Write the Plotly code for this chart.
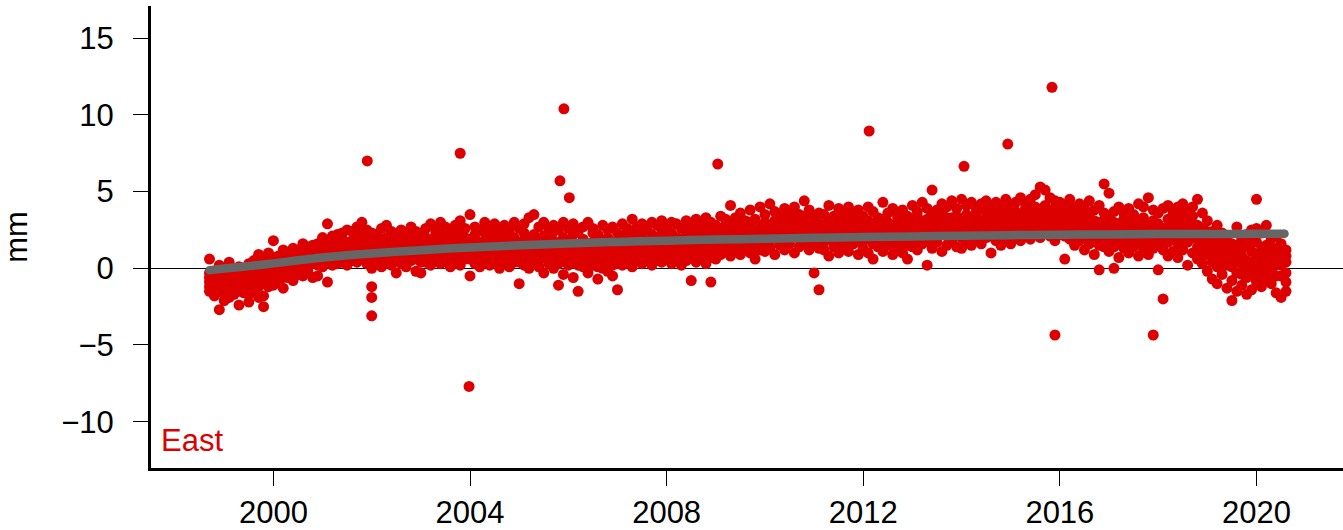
import plotly.graph_objects as go

# GPS east component, mm. Each epoch carries six solutions
epoch = [
    1998.7, 1998.8, 1998.9,
    1999.0, 1999.1, 1999.2, 1999.3, 1999.4, 1999.5, 1999.6, 1999.7, 1999.8, 1999.9,
    2000.0, 2000.1, 2000.2, 2000.3, 2000.4, 2000.5, 2000.6, 2000.7, 2000.8, 2000.9,
    2001.0, 2001.1, 2001.2, 2001.3, 2001.4, 2001.5, 2001.6, 2001.7, 2001.8, 2001.9,
    2002.0, 2002.1, 2002.2, 2002.3, 2002.4, 2002.5, 2002.6, 2002.7, 2002.8, 2002.9,
    2003.0, 2003.1, 2003.2, 2003.3, 2003.4, 2003.5, 2003.6, 2003.7, 2003.8, 2003.9,
    2004.0, 2004.1, 2004.2, 2004.3, 2004.4, 2004.5, 2004.6, 2004.7, 2004.8, 2004.9,
    2005.0, 2005.1, 2005.2, 2005.3, 2005.4, 2005.5, 2005.6, 2005.7, 2005.8, 2005.9,
    2006.0, 2006.1, 2006.2, 2006.3, 2006.4, 2006.5, 2006.6, 2006.7, 2006.8, 2006.9,
    2007.0, 2007.1, 2007.2, 2007.3, 2007.4, 2007.5, 2007.6, 2007.7, 2007.8, 2007.9,
    2008.0, 2008.1, 2008.2, 2008.3, 2008.4, 2008.5, 2008.6, 2008.7, 2008.8, 2008.9,
    2009.0, 2009.1, 2009.2, 2009.3, 2009.4, 2009.5, 2009.6, 2009.7, 2009.8, 2009.9,
    2010.0, 2010.1, 2010.2, 2010.3, 2010.4, 2010.5, 2010.6, 2010.7, 2010.8, 2010.9,
    2011.0, 2011.1, 2011.2, 2011.3, 2011.4, 2011.5, 2011.6, 2011.7, 2011.8, 2011.9,
    2012.0, 2012.1, 2012.2, 2012.3, 2012.4, 2012.5, 2012.6, 2012.7, 2012.8, 2012.9,
    2013.0, 2013.1, 2013.2, 2013.3, 2013.4, 2013.5, 2013.6, 2013.7, 2013.8, 2013.9,
    2014.0, 2014.1, 2014.2, 2014.3, 2014.4, 2014.5, 2014.6, 2014.7, 2014.8, 2014.9,
    2015.0, 2015.1, 2015.2, 2015.3, 2015.4, 2015.5, 2015.6, 2015.7, 2015.8, 2015.9,
    2016.0, 2016.1, 2016.2, 2016.3, 2016.4, 2016.5, 2016.6, 2016.7, 2016.8, 2016.9,
    2017.0, 2017.1, 2017.2, 2017.3, 2017.4, 2017.5, 2017.6, 2017.7, 2017.8, 2017.9,
    2018.0, 2018.1, 2018.2, 2018.3, 2018.4, 2018.5, 2018.6, 2018.7, 2018.8, 2018.9,
    2019.0, 2019.1, 2019.2, 2019.3, 2019.4, 2019.5, 2019.6, 2019.7, 2019.8, 2019.9,
    2020.0, 2020.1, 2020.2, 2020.3, 2020.4, 2020.5, 2020.6,
]

east_mm = [
    [-1.2, -0.6, 0.6, -0.3, -0.9, -1.5], [-1.8, -0.9, -0.2, -1.3, -0.5, -1.1],
    [-2.7, -1.5, -0.5, 0.2, -1.0, -0.7],
    # 1999
    [-2.1, -1.1, -0.4, -1.6, -0.8, -1.3], [-1.4, -0.7, 0.4, -1.9, -1.1, -0.3],
    [-1.2, -0.3, -0.8, -1.7, -0.6, -1.4], [-2.4, -1.0, -0.2, 0.1, -0.7, -1.5],
    [-1.6, -0.9, -0.4, -1.3, -0.2, -1.1], [-2.2, -0.6, 0.3, -1.1, -0.4, -1.6],
    [-1.0, -0.2, 0.5, -1.6, -0.7, -0.1], [-1.9, -0.8, 0.2, 0.9, -0.4, -1.2],
    [-2.5, -1.8, -0.5, 0.6, -0.9, 0.0], [-1.2, -0.3, 0.4, 1.0, -0.6, -0.9],
    # 2000
    [-1.1, -0.4, 0.7, 1.8, 0.1, -0.7], [-0.9, 0.0, 0.8, -0.3, 0.4, -0.5],
    [-1.3, -0.2, 0.6, 1.2, 0.3, -0.6], [-0.6, 0.3, 1.0, -0.1, 0.6, -0.3],
    [-0.8, 0.1, 0.9, 1.3, 0.5, -0.2], [-0.4, 0.4, 1.2, -0.1, 0.8, 0.0],
    [-0.5, 0.2, 1.0, 1.6, 0.6, 0.3], [-0.2, 0.6, 1.4, 0.1, 1.0, 0.3],
    [-0.6, 0.3, 0.9, 1.5, 0.6, 1.2], [-0.5, 0.5, 1.6, 0.9, 0.2, 1.2],
    # 2001
    [0.1, 0.7, 1.5, 2.0, 1.1, 0.4], [-0.9, 0.4, 1.2, 2.9, 0.8, 1.6],
    [0.2, 1.0, 1.8, 1.4, 0.6, 2.1], [0.3, 0.9, 2.2, 1.5, 1.2, 0.6],
    [0.4, 1.2, 1.9, 2.3, 0.8, 1.5], [0.2, 1.1, 1.7, 2.5, 1.4, 0.7],
    [0.5, 1.3, 2.4, 1.8, 0.9, 1.6], [0.4, 1.5, 2.0, 2.7, 1.0, 1.8],
    [0.7, 1.2, 2.2, 3.0, 1.6, 0.9], [0.3, 1.4, 2.5, 1.9, 0.8, 1.1],
    # 2002
    [0.0, 1.0, 1.6, 2.3, 0.6, 1.3], [0.3, 0.9, 1.8, 2.2, 1.4, 0.6],
    [0.1, 1.1, 1.5, 2.6, 0.7, 1.9], [0.4, 0.8, 2.0, 2.8, 1.3, 1.6],
    [0.2, 1.2, 1.7, 2.4, 0.7, 1.5], [-0.3, 0.7, 1.4, 2.1, 1.0, 1.8],
    [0.3, 1.0, 1.9, 2.5, 1.4, 0.6], [0.1, 1.3, 1.6, 2.2, 0.8, 1.9],
    [0.5, 0.9, 2.1, 2.7, 1.5, 1.2], [-0.2, 1.1, 1.5, 2.4, 0.6, 1.8],
    # 2003
    [-0.3, 0.8, 1.8, 2.3, 1.3, 0.4], [0.4, 1.2, 2.0, 2.6, 0.8, 1.6],
    [0.2, 1.0, 1.7, 2.9, 1.4, 0.6], [0.6, 1.4, 2.2, 2.5, 1.0, 1.8],
    [0.3, 1.1, 1.9, 3.0, 1.5, 0.7], [0.5, 1.3, 2.3, 2.7, 0.9, 1.8],
    [0.1, 1.0, 1.8, 2.4, 1.4, 0.6], [0.4, 1.5, 2.1, 2.8, 0.9, 1.8],
    [0.2, 1.2, 2.4, 3.1, 1.7, 0.7], [0.6, 1.4, 2.0, 2.6, 1.0, 1.7],
    # 2004
    [-0.5, 1.1, 1.9, 3.5, 0.6, 1.5], [0.3, 1.3, 2.2, 2.7, 0.8, 1.7],
    [0.1, 0.9, 1.7, 2.5, 1.3, 0.5], [0.4, 1.2, 2.3, 3.0, 1.7, 0.8],
    [0.2, 1.0, 1.8, 2.6, 1.4, 0.6], [0.5, 1.4, 2.1, 2.9, 1.0, 1.8],
    [0.0, 1.1, 1.9, 2.4, 0.6, 1.5], [0.3, 1.3, 2.4, 2.8, 0.8, 1.8],
    [0.1, 0.8, 1.6, 2.5, 1.2, 2.0], [0.4, 1.2, 2.0, 3.0, 0.8, 1.6],
    # 2005
    [-1.0, 0.9, 1.7, 2.6, 1.3, 0.4], [0.2, 1.3, 2.3, 2.9, 0.7, 1.8],
    [0.0, 1.1, 1.8, 3.3, 1.5, 0.6], [0.4, 1.4, 2.2, 3.5, 0.9, 1.8],
    [0.1, 1.0, 1.9, 2.7, 1.4, 0.6], [-0.3, 1.2, 2.1, 3.0, 0.7, 1.6],
    [0.3, 0.9, 1.7, 2.6, 1.3, 2.1], [0.0, 1.3, 2.4, 2.8, 0.6, 1.8],
    [-1.1, 0.8, 1.6, 2.5, 1.2, 0.3], [-0.4, 1.1, 2.0, 3.0, 0.5, 1.5],
    # 2006
    [0.2, 1.0, 1.8, 2.6, 1.4, 0.6], [-0.6, 0.9, 2.2, 2.9, 0.4, 1.5],
    [-1.5, 0.7, 1.5, 2.4, 1.1, 0.2], [0.1, 1.2, 1.9, 2.7, 0.6, 1.5],
    [-0.3, 0.8, 1.6, 3.0, 1.2, 0.3], [0.2, 1.1, 2.3, 2.6, 0.6, 1.7],
    [-0.7, 0.6, 1.4, 2.2, 1.0, 0.1], [0.0, 1.0, 1.8, 2.8, 0.5, 1.4],
    [-0.2, 0.9, 2.0, 2.5, 1.4, 0.4], [-0.5, 1.3, 1.7, 2.7, 0.7, 0.2],
    # 2007
    [-1.4, 0.7, 1.5, 2.3, 1.1, 0.3], [0.2, 1.1, 2.1, 2.9, 0.7, 1.6],
    [0.4, 1.4, 1.9, 2.6, 0.9, 1.2], [0.1, 1.0, 2.3, 3.2, 1.6, 0.6],
    [0.5, 1.3, 2.0, 2.7, 0.9, 1.7], [0.3, 1.5, 2.4, 2.9, 1.0, 1.9],
    [0.6, 1.2, 1.8, 2.5, 1.5, 0.9], [0.2, 1.4, 2.2, 3.0, 0.8, 1.8],
    [0.5, 1.1, 2.0, 2.8, 1.6, 0.8], [0.4, 1.6, 2.5, 3.1, 1.1, 2.0],
    # 2008
    [0.7, 1.3, 2.1, 2.7, 1.7, 1.0], [0.3, 1.5, 2.3, 3.0, 1.0, 1.9],
    [0.6, 1.2, 2.0, 2.9, 1.6, 0.9], [0.2, 1.0, 1.9, 2.6, 1.4, 0.6],
    [0.5, 1.6, 2.4, 3.1, 1.1, 2.0], [-0.8, 1.3, 2.2, 2.8, 1.7, 0.8],
    [0.4, 1.4, 2.5, 3.2, 1.9, 1.0], [0.7, 1.7, 2.1, 2.9, 1.3, 2.4],
    [0.3, 1.5, 2.6, 3.3, 2.0, 1.1], [-0.9, 1.8, 2.3, 3.0, 1.3, 0.7],
    # 2009
    [0.6, 1.4, 2.2, 2.8, 1.8, 1.0], [0.9, 1.9, 2.6, 3.4, 2.2, 1.4],
    [1.1, 1.7, 2.4, 3.2, 2.0, 2.8], [0.8, 2.0, 2.8, 4.1, 1.5, 2.4],
    [1.2, 1.8, 2.5, 3.3, 2.1, 2.9], [0.9, 2.1, 2.9, 3.6, 1.6, 2.5],
    [1.3, 1.9, 2.6, 3.1, 2.3, 1.6], [1.0, 2.2, 3.0, 3.8, 1.7, 2.6],
    [0.6, 1.8, 2.4, 3.2, 2.1, 1.3], [1.2, 2.0, 2.7, 4.0, 2.4, 1.6],
    # 2010
    [1.1, 2.3, 3.0, 3.5, 1.8, 2.7], [1.4, 2.1, 2.8, 4.2, 2.5, 1.8],
    [0.9, 2.4, 3.1, 3.7, 2.0, 2.8], [1.5, 2.2, 2.9, 3.4, 2.6, 1.9],
    [1.2, 2.5, 3.2, 3.9, 2.0, 2.8], [1.6, 2.3, 3.0, 3.6, 2.7, 2.0],
    [1.0, 2.6, 3.3, 4.0, 2.1, 2.9], [1.4, 2.2, 2.9, 3.5, 2.6, 1.9],
    [1.7, 2.5, 3.4, 4.4, 2.1, 3.0], [1.2, 2.3, 3.1, 3.8, 2.7, 1.8],
    # 2011
    [-0.3, 1.6, 2.6, 3.3, 2.1, 3.0], [-1.4, 1.3, 2.4, 3.6, 2.0, 2.9],
    [1.2, 2.0, 2.8, 3.5, 2.4, 1.7], [0.8, 2.3, 3.1, 4.1, 1.9, 2.7],
    [1.4, 2.1, 2.7, 3.4, 2.5, 3.0], [1.0, 2.4, 3.2, 3.9, 1.8, 2.8],
    [1.5, 2.2, 2.9, 3.6, 2.6, 1.9], [1.1, 2.5, 3.3, 4.0, 2.0, 2.9],
    [1.6, 2.0, 2.8, 3.5, 2.4, 3.1], [0.9, 2.3, 3.0, 3.8, 1.8, 2.7],
    # 2012
    [1.3, 2.1, 2.7, 3.4, 2.5, 1.8], [1.0, 2.4, 3.1, 4.0, 1.9, 2.8],
    [0.6, 2.2, 2.9, 3.7, 2.5, 1.6], [1.4, 2.0, 2.6, 3.3, 2.4, 3.0],
    [1.1, 2.5, 3.2, 4.3, 1.9, 2.8], [1.5, 2.3, 3.0, 3.6, 2.7, 1.9],
    [0.9, 2.1, 2.8, 3.9, 2.4, 1.6], [1.3, 2.4, 3.3, 3.5, 2.0, 2.8],
    [1.0, 2.2, 2.9, 3.8, 2.6, 1.7], [0.6, 2.0, 2.7, 3.4, 2.3, 1.5],
    # 2013
    [1.4, 2.5, 3.1, 4.1, 2.0, 2.8], [1.2, 2.3, 3.4, 3.7, 2.7, 1.8],
    [1.6, 2.6, 3.0, 4.3, 2.2, 2.9], [0.2, 2.2, 3.2, 3.9, 2.7, 1.8],
    [1.3, 2.7, 3.5, 5.1, 2.1, 3.0], [1.7, 2.4, 3.1, 3.8, 2.8, 2.0],
    [1.1, 2.8, 3.6, 4.2, 2.3, 3.1], [1.5, 2.5, 3.3, 4.0, 2.9, 2.1],
    [1.8, 2.9, 3.0, 4.4, 2.4, 3.3], [1.4, 2.6, 3.4, 3.9, 2.2, 3.0],
    # 2014
    [1.3, 2.4, 3.2, 4.5, 2.8, 2.0], [1.7, 2.7, 3.5, 4.1, 2.3, 3.1],
    [1.5, 2.5, 3.3, 4.3, 2.9, 2.1], [1.9, 2.8, 3.6, 3.9, 2.4, 3.2],
    [1.6, 2.6, 3.1, 4.2, 2.2, 3.0], [2.0, 2.9, 3.7, 4.4, 2.5, 3.3],
    [1.0, 2.5, 3.4, 4.0, 2.1, 3.0], [1.8, 2.7, 3.2, 4.3, 2.4, 3.5],
    [1.5, 3.0, 3.8, 4.1, 2.3, 3.4], [1.9, 2.6, 3.5, 4.5, 3.1, 2.2],
    # 2015
    [1.6, 2.8, 3.3, 4.0, 2.4, 3.6], [2.1, 3.0, 3.7, 4.3, 2.6, 3.4],
    [1.8, 2.7, 3.5, 4.6, 3.1, 2.3], [2.2, 3.1, 3.9, 4.2, 2.6, 3.5],
    [1.9, 2.9, 3.6, 4.5, 2.4, 3.3], [2.3, 3.2, 4.0, 4.8, 2.7, 3.6],
    [2.0, 3.0, 3.7, 5.3, 2.5, 3.4], [2.4, 3.3, 4.1, 5.1, 2.8, 3.7],
    [2.1, 2.9, 3.8, 4.6, 3.4, 2.5], [1.8, 3.1, 3.9, 4.4, 2.6, 3.5],
    # 2016
    [2.2, 2.8, 3.6, 4.3, 3.2, 2.5], [0.6, 2.5, 3.4, 4.1, 2.1, 3.0],
    [1.9, 2.9, 3.7, 4.5, 2.4, 3.3], [1.5, 2.6, 3.3, 4.0, 2.2, 3.0],
    [1.8, 3.0, 3.8, 4.2, 2.5, 3.4], [1.2, 2.4, 3.2, 3.9, 2.8, 2.0],
    [1.6, 2.8, 3.5, 4.4, 2.3, 3.1], [0.9, 2.3, 3.1, 3.8, 2.7, 1.8],
    [-0.1, 2.0, 3.0, 4.1, 2.5, 1.5], [1.4, 2.6, 3.6, 5.5, 2.1, 3.1],
    # 2017
    [1.1, 2.2, 3.3, 4.9, 2.7, 1.7], [0.0, 2.5, 3.0, 3.7, 2.0, 1.4],
    [0.7, 2.1, 2.9, 4.0, 2.5, 1.6], [1.3, 2.4, 3.2, 3.6, 1.9, 2.8],
    [1.0, 2.0, 2.8, 3.9, 2.4, 1.6], [1.4, 2.6, 3.4, 3.5, 2.1, 3.0],
    [0.8, 2.2, 3.0, 4.2, 2.6, 1.7], [1.2, 2.5, 3.3, 4.0, 2.0, 2.9],
    [0.9, 2.1, 2.7, 4.6, 2.4, 1.6], [1.3, 2.4, 3.1, 3.8, 1.9, 2.8],
    # 2018
    [-0.1, 2.0, 2.9, 3.6, 2.5, 1.5], [-2.0, 1.6, 2.6, 3.9, 2.2, 1.2],
    [0.8, 2.2, 3.2, 4.1, 2.7, 1.7], [1.1, 2.4, 3.0, 3.7, 1.9, 2.8],
    [0.7, 2.1, 3.3, 4.0, 2.6, 1.6], [1.2, 2.6, 3.5, 4.2, 2.1, 3.0],
    [0.2, 2.3, 3.1, 3.8, 1.7, 2.7], [1.0, 2.5, 3.4, 4.0, 2.0, 2.9],
    [0.6, 1.9, 2.8, 4.5, 2.3, 1.4], [0.3, 2.6, 1.4, 3.6, 2.0, 0.9],
    # 2019
    [1.9, -0.2, 3.1, 0.9, 1.4, 2.4], [0.4, 2.4, -0.7, 1.5, 1.0, 1.9],
    [2.8, 0.1, 1.2, -1.0, 0.7, 1.8], [-0.4, 1.8, 0.6, 2.3, 1.2, 0.1],
    [1.0, -1.3, 2.1, 0.2, 0.6, 1.5], [-2.1, 0.5, 1.6, -0.8, 0.1, 1.1],
    [2.7, -0.3, 0.9, -1.5, 0.4, 1.5], [0.3, -1.1, 1.9, 0.8, -0.4, 1.3],
    [-0.6, 1.4, -1.7, 2.2, 0.5, -0.1], [1.1, -1.4, 0.4, 2.5, -0.5, 1.7],
    # 2020
    [-0.9, 1.7, 0.1, 2.6, 0.9, -0.3], [0.6, -0.4, 2.3, -1.2, 1.2, 0.1],
    [1.5, -0.7, 0.3, 2.8, 0.9, -0.2], [-1.0, 1.9, 0.8, -0.2, 1.3, 0.3],
    [0.2, -1.6, 1.3, 2.1, -0.5, 0.7], [-1.9, 0.7, -0.5, 1.6, 0.2, 1.1],
    [1.2, -1.5, 0.4, -0.9, -0.3, 0.8],
]

# isolated solutions away from the band
outlier_epoch = [2001.91, 2002.0, 2002.0, 2002.0, 2003.8, 2003.98, 2005.83,
                 2005.91, 2006.02, 2009.04, 2012.12, 2014.05, 2014.94,
                 2015.84, 2015.9, 2017.9, 2020.0]
outlier_mm = [7.0, -1.2, -1.9, -3.1, 7.5, -7.7, 5.7,
              10.4, 4.6, 6.8, 8.95, 6.65, 8.1,
              11.8, -4.35, -4.35, 4.5]

# smooth trend curve
fit_epoch = [1998.7, 1999.0, 1999.5, 2000.0, 2000.5, 2001.0, 2001.5, 2002.0,
             2002.5, 2003.0, 2004.0, 2005.0, 2006.0, 2007.0, 2008.0, 2009.0,
             2010.0, 2011.0, 2012.0, 2013.0, 2014.0, 2015.0, 2016.0, 2017.0,
             2018.0, 2019.0, 2020.0, 2020.57]
fit_mm = [-0.12, -0.02, 0.14, 0.32, 0.52, 0.70, 0.85, 0.97,
          1.08, 1.18, 1.36, 1.50, 1.62, 1.72, 1.80, 1.87,
          1.93, 1.99, 2.04, 2.08, 2.12, 2.16, 2.19, 2.21,
          2.23, 2.24, 2.25, 2.26]

ytick_vals = [-10, -5, 0, 5, 10, 15]
xtick_vals = [2000, 2004, 2008, 2012, 2016, 2020]

RED = "#DC0000"
GRAY = "#666666"
FONT = "Liberation Sans, Arial, Helvetica, sans-serif"
FS = 31

pts_x = [t for t, vals in zip(epoch, east_mm) for _ in vals] + outlier_epoch
pts_y = [v for vals in east_mm for v in vals] + outlier_mm

fig = go.Figure()
fig.add_trace(go.Scatter(
    x=pts_x, y=pts_y, mode="markers",
    marker=dict(color=RED, size=11, line=dict(width=0)),
    hoverinfo="skip",
))
fig.add_trace(go.Scatter(
    x=fit_epoch, y=fit_mm, mode="lines",
    line=dict(color=GRAY, width=8.5, shape="spline", smoothing=1.0),
))
# round ends of the trend line
fig.add_trace(go.Scatter(
    x=[fit_epoch[0], fit_epoch[-1]], y=[fit_mm[0], fit_mm[-1]], mode="markers",
    marker=dict(color=GRAY, size=8.5, line=dict(width=0)),
))

fig.update_layout(
    width=1343, height=530,
    margin=dict(l=151, r=0, t=6, b=62),
    plot_bgcolor="white", paper_bgcolor="white",
    showlegend=False,
    font=dict(family=FONT, size=FS, color="black"),
)
fig.update_xaxes(
    range=[1997.51, 2021.76], automargin=False,
    tickvals=xtick_vals, ticktext=[str(v) for v in xtick_vals],
    showgrid=False, zeroline=False,
    showline=True, linecolor="black", linewidth=3,
    ticks="outside", ticklen=15, tickwidth=1.3, tickcolor="black",
    ticklabelstandoff=0,
)
fig.update_yaxes(
    range=[-13.02, 17.1], automargin=False,
    tickvals=ytick_vals,
    showgrid=False,
    zeroline=True, zerolinecolor="black", zerolinewidth=1,
    showline=True, linecolor="black", linewidth=3,
    ticks="outside", ticklen=15, tickwidth=1.3, tickcolor="black",
    ticklabelstandoff=13,
)
fig.add_annotation(
    text="mm", xref="paper", yref="paper", x=-0.1135, y=0.5,
    textangle=-90, showarrow=False, xanchor="center", yanchor="middle",
    font=dict(size=FS, color="black"),
)
fig.add_annotation(
    text="East", xref="paper", yref="paper", x=0.007, y=0.0595,
    showarrow=False, xanchor="left", yanchor="middle",
    font=dict(size=FS, color=RED),
)

# the page body has a default 8px margin; drop it so the figure sits at 0,0
fig.write_html("out.html", config={"displayModeBar": False},
               post_script="document.body.style.margin='0';")
